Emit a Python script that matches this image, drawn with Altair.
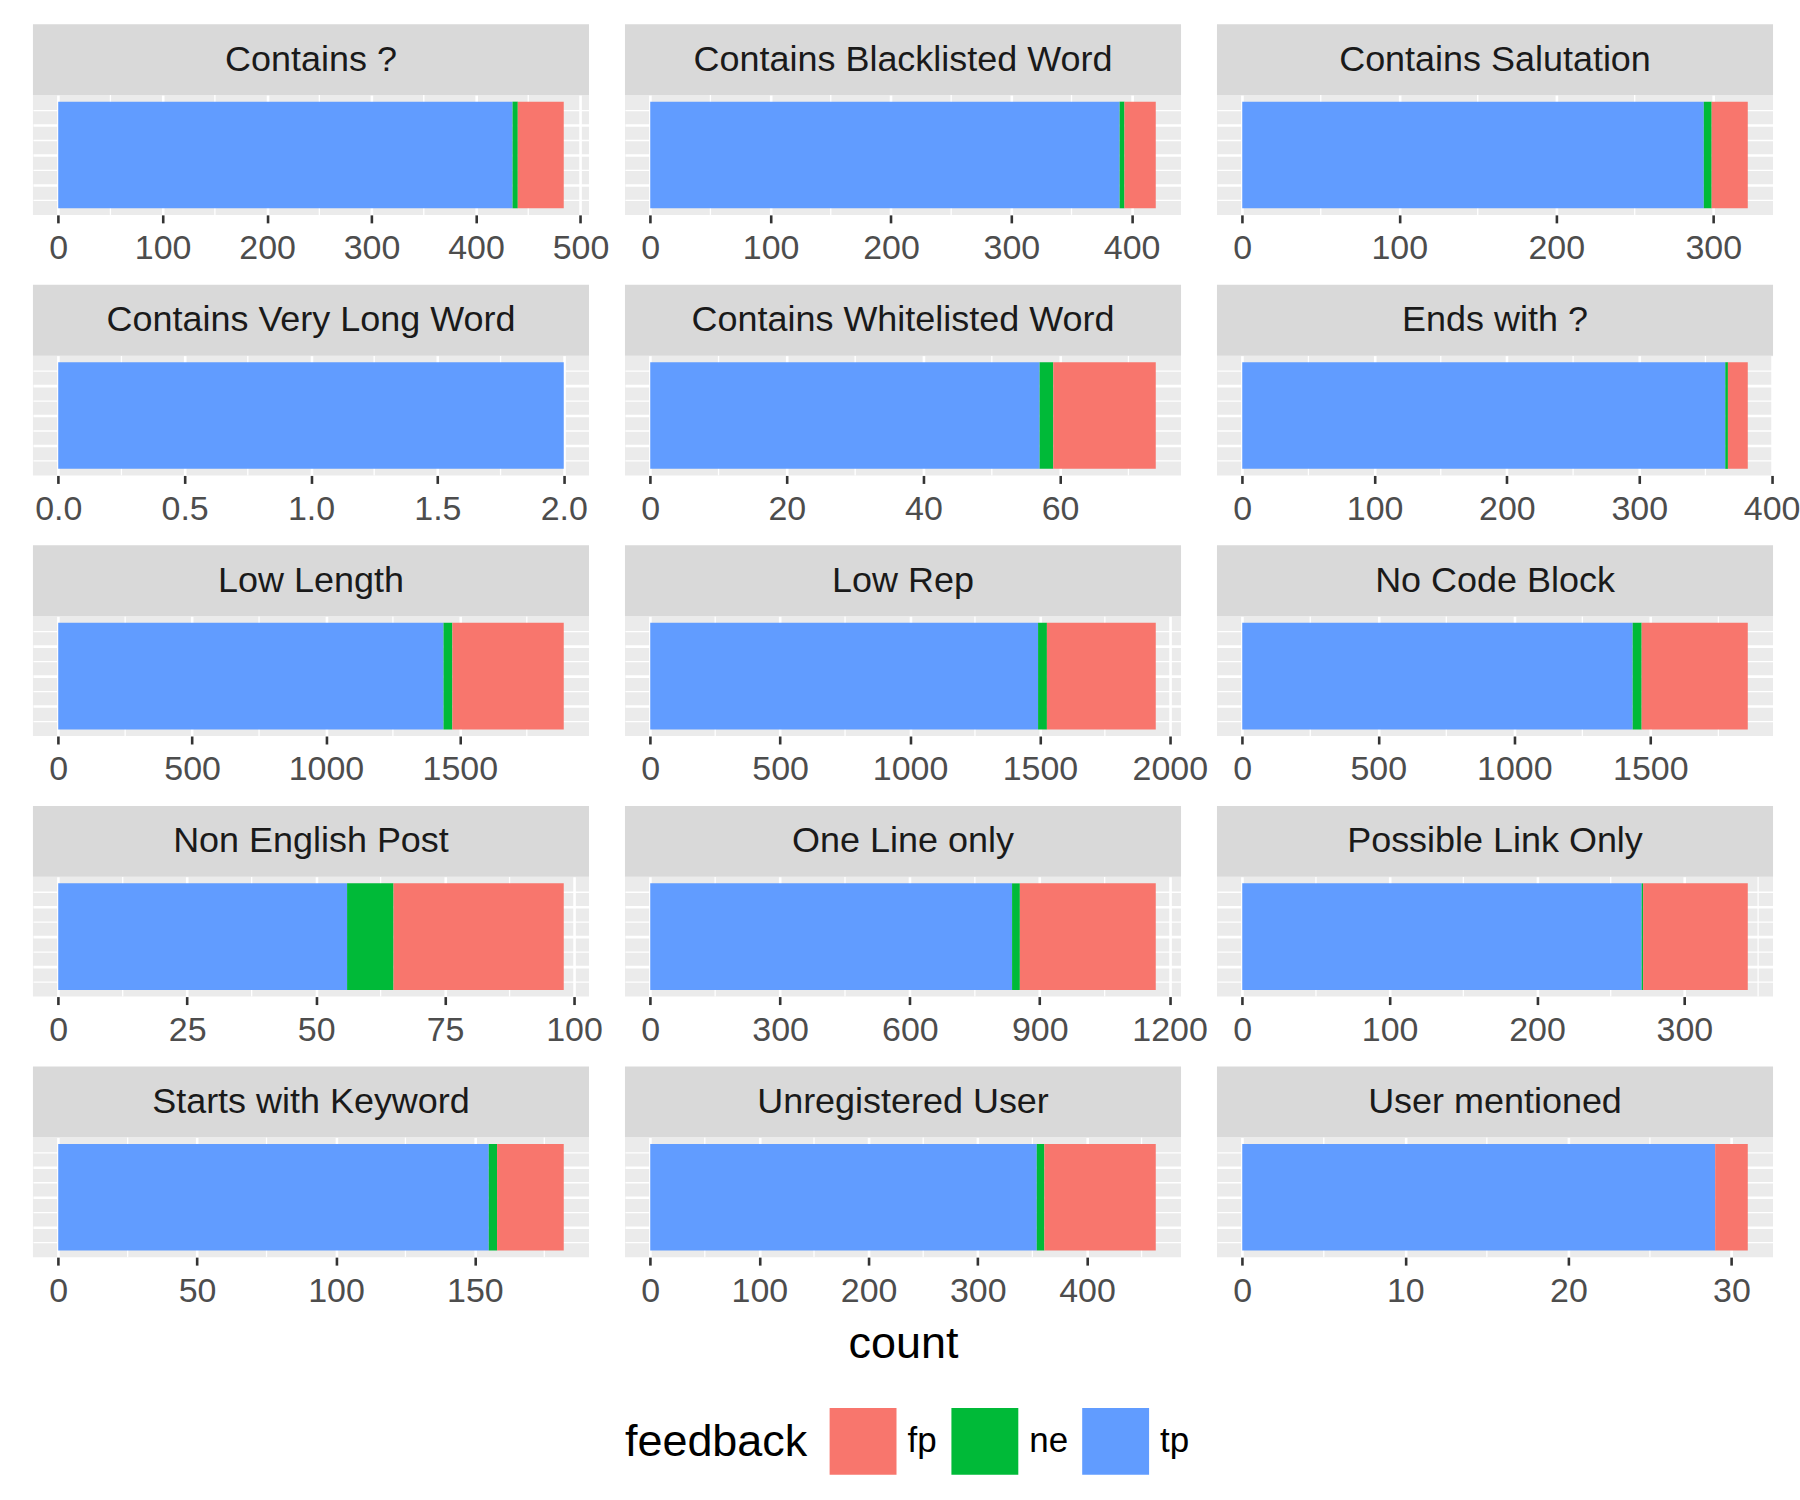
import altair as alt
import pandas as pd

categories = [
    "Contains ?", "Contains Blacklisted Word", "Contains Salutation",
    "Contains Very Long Word", "Contains Whitelisted Word", "Ends with ?",
    "Low Length", "Low Rep", "No Code Block",
    "Non English Post", "One Line only", "Possible Link Only",
    "Starts with Keyword", "Unregistered User", "User mentioned",
]
tp_counts = [435, 390, 294, 2, 57, 365, 1439, 1493, 1435, 56, 836, 271, 155, 354, 29]
ne_counts = [5, 4, 5, 0, 2, 2, 33, 34, 33, 9, 18, 1, 3, 7, 0]
fp_counts = [44, 26, 23, 0, 15, 15, 416, 419, 390, 33, 314, 71, 24, 102, 2]

tick_values = [
    [0, 100, 200, 300, 400, 500], [0, 100, 200, 300, 400], [0, 100, 200, 300],
    [0, 0.5, 1, 1.5, 2], [0, 20, 40, 60], [0, 100, 200, 300, 400],
    [0, 500, 1000, 1500], [0, 500, 1000, 1500, 2000], [0, 500, 1000, 1500],
    [0, 25, 50, 75, 100], [0, 300, 600, 900, 1200], [0, 100, 200, 300],
    [0, 50, 100, 150], [0, 100, 200, 300, 400], [0, 10, 20, 30],
]
tick_formats = ["d", "d", "d", ".1f", "d", "d", "d", "d", "d", "d", "d", "d", "d", "d", "d"]

feedback_levels = ["fp", "ne", "tp"]
feedback_colors = ["#F8766D", "#00BA38", "#619CFF"]
stack_order = ["tp", "ne", "fp"]

W, H, STRIP = 557, 120, 71
FONT = "Liberation Sans"

legend = alt.Legend(
    orient="none", legendX=593, legendY=1315, direction="horizontal",
    title="feedback", titleOrient="left", titleFontSize=45, titleFont=FONT,
    titleFontWeight="normal", titleColor="black", titlePadding=22,
    titleBaseline="middle", titleLimit=500,
    labelFontSize=35, labelFont=FONT, labelColor="black", labelOffset=11,
    columnPadding=14, symbolType="square", symbolSize=4489,
    symbolStrokeWidth=0, symbolOpacity=1,
)


def panel(i):
    counts = {"tp": tp_counts[i], "ne": ne_counts[i], "fp": fp_counts[i]}
    recs = []
    start = 0
    for fb in stack_order:
        c = counts[fb]
        if c > 0:
            recs.append({"feedback": fb, "count": c, "start": start, "end": start + c})
        start += c
    total = start
    df = pd.DataFrame(recs)
    xscale = alt.Scale(domain=[-0.05 * total, 1.05 * total], nice=False, zero=False)

    ticks = tick_values[i]
    minors = [(a + b) / 2 for a, b in zip(ticks[:-1], ticks[1:])]
    step = ticks[1] - ticks[0]
    minors.append(ticks[-1] + step / 2)
    minors = [m for m in minors if m <= 1.05 * total]
    minor_df = pd.DataFrame({"v": minors})

    xaxis = alt.Axis(
        values=ticks, format=tick_formats[i], grid=True, gridColor="white",
        gridWidth=2.6, domain=False, tickColor="#333333", tickWidth=2.6,
        tickSize=8, labelFontSize=34, labelColor="#4D4D4D", labelFont=FONT,
        labelPadding=9, labelFlush=False, labelOverlap=False,
        title="count" if i == 13 else None, titleFontSize=45,
        titleFontWeight="normal", titleColor="black", titleFont=FONT,
        titlePadding=14,
    )
    yaxis = alt.Axis(
        values=[0.125, 0.25, 0.375, 0.5, 0.625, 0.75, 0.875], grid=True,
        gridColor="white",
        gridWidth={"condition": {"test": "datum.value % 0.25 == 0", "value": 2.6}, "value": 1.3},
        labels=False, ticks=False, domain=False, title=None,
    )

    minor = alt.Chart(minor_df).mark_rule(color="white", strokeWidth=1.3).encode(
        x=alt.X("v:Q", scale=xscale, axis=xaxis),
        y=alt.value(0), y2=alt.value(H),
    )
    bars = alt.Chart(df).mark_rect().encode(
        x=alt.X("start:Q", scale=xscale, axis=xaxis),
        x2="end:Q",
        y=alt.YDatum(0.055, scale=alt.Scale(domain=[0, 1]), axis=yaxis),
        y2=alt.Y2Datum(0.945),
        color=alt.Color("feedback:N",
                        scale=alt.Scale(domain=feedback_levels, range=feedback_colors),
                        legend=legend),
    )
    strip_df = pd.DataFrame({"label": [categories[i]]})
    strip = alt.Chart(strip_df).mark_rect(color="#D9D9D9").encode(
        x=alt.value(0), x2=alt.value(W), y=alt.value(-STRIP), y2=alt.value(0)
    )
    text = alt.Chart(strip_df).mark_text(
        fontSize=36, font=FONT, color="#1A1A1A", align="center", baseline="middle"
    ).encode(x=alt.value(W / 2), y=alt.value(-STRIP / 2), text="label:N")
    return alt.layer(minor, bars, strip, text).properties(width=W, height=H)


panels = [panel(i) for i in range(len(categories))]
chart = alt.concat(
    *panels, columns=3, spacing={"row": 141, "column": 36}, bounds="flush"
).properties(
    padding={"left": 33, "top": 23, "right": 0, "bottom": 5},
    background="white",
).configure_view(fill="#EBEBEB", stroke=None)

chart.save("out.html", embed_options={"renderer": "svg", "actions": False})
